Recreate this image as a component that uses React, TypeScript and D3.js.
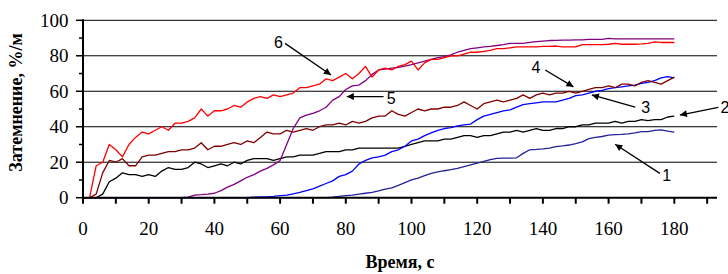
import React from "react"
import * as d3 from "d3"

// sampling grid, seconds
const seconds = d3.range(0, 181, 2)

// curve 1 (dark blue)
const curve1 = [
	0, 0, 0, 0, 0, 0, 0, 0, 0, 0,
	0, 0, 0, 0, 0, 0, 0, 0, 0, 0,
	0, 0, 0, 0, 0, 0, 0, 0, 0, 0,
	0, 0, 0, 0, 0, 0, 0, 0, 0.3, 0.8,
	1.2, 1.5, 2, 2.5, 3, 3.8, 4.8, 5.5, 7, 8.5,
	10, 11, 12.5, 13.7, 14.5, 15.2, 15.8, 16.5, 17.5, 18.5,
	19.5, 20.5, 21.5, 22.2, 22.3, 22.3, 22.5, 25, 27, 27.2,
	27.5, 28, 28.8, 29.2, 29.7, 30.5, 31.5, 33.3, 34, 34.5,
	35.3, 35.5, 35.7, 36, 36.5, 37.2, 37.3, 38, 38.2, 37.5,
	37,
]

// curve 2 (black)
const curve2 = [
	0, 0, 0, 2, 9, 11, 14, 13, 13, 12,
	13, 12, 15, 17, 16, 16, 17, 20, 19, 17,
	18, 19, 18, 20, 19, 21, 22, 22, 22, 21,
	22, 23, 23, 24, 24, 24, 25, 26, 26, 26,
	27, 27, 28, 28, 28, 28, 28, 28, 28, 29,
	30, 31, 32, 32, 32, 33, 33, 34, 35, 35,
	34, 35, 35, 36, 37, 37, 38, 37, 38, 39,
	38, 38, 39, 39, 40, 40, 41, 41, 42, 42,
	42, 43, 42, 43, 43, 44, 43.5, 44, 44, 45.5,
	46,
]

// curve 3 (blue)
const curve3 = [
	0, 0, 0, 0, 0, 0, 0, 0, 0, 0,
	0, 0, 0, 0, 0, 0, 0, 0, 0, 0,
	0, 0, 0, 0, 0, 0, 0.3, 0.5, 0.5, 0.8,
	1.2, 1.5, 2.2, 3, 4, 5, 6.5, 8, 9.5, 12,
	13, 15, 19, 21, 22.5, 23, 24, 26, 27, 29,
	32, 33, 35, 36.5, 38, 39, 39.5, 40.5, 41, 41.5,
	44, 46, 47, 48, 49, 49.5, 51, 52.5, 53, 53.5,
	54, 54, 54, 55, 56, 57.5, 58, 59, 60, 60.5,
	61.5, 62, 62.5, 63, 63.5, 64.5, 65, 66, 67.5, 68.3,
	67.5,
]

// curve 4 (dark red)
const curve4 = [
	0, 0, 2, 14, 21, 20, 22, 18, 18, 23,
	24, 24, 25, 26, 26, 27, 27, 28, 31, 27,
	29, 29, 30, 31, 30, 32, 31, 34, 37, 36,
	36, 38, 37, 38, 39, 38, 40, 41, 41, 42,
	41, 43, 42, 43, 45, 46, 46, 49, 47, 46,
	48, 50, 49, 50, 50, 51, 51, 52, 54, 52,
	50, 53, 54, 55, 54, 55, 56, 58, 56, 58,
	59, 58, 59, 59, 60, 59, 60, 61, 62, 62,
	63, 62, 64, 64, 63, 65, 66, 65, 64, 66,
	68,
]

// curve 5 (purple)
const curve5 = [
	0, 0, 0, 0, 0, 0, 0, 0, 0, 0,
	0, 0, 0, 0, 0, 0, 0.3, 1.5, 1.7, 2,
	2.5, 4, 6, 7.5, 9.5, 11.5, 13, 15, 16.5, 18.5,
	21, 30, 39, 45, 46.5, 47.5, 49, 51, 55, 57,
	61, 63, 63.5, 66, 69.5, 72, 72.5, 73, 73.5, 74.2,
	75, 76, 77, 78, 79, 79.5, 80.5, 82, 83, 84,
	84.5, 85, 85.3, 85.8, 86.3, 87, 87, 87, 87.5, 88,
	88.3, 88.6, 88.7, 88.8, 88.8, 89, 89, 89.3, 89.3, 89.3,
	89.8, 89.5, 89.5, 89.5, 89.5, 89.5, 89.5, 89.5, 89.5, 89.5,
	89.5,
]

// curve 6 (red)
const curve6 = [
	0, 0, 18, 20, 30, 27, 23, 30, 34, 37,
	36, 38, 40, 38, 42, 42, 43, 45, 50, 46,
	49, 49, 50, 52, 51, 54, 56, 57, 56, 58,
	57, 58, 59, 62, 62, 63, 64, 67, 66, 68,
	70, 67, 70, 74, 68, 72, 73, 72, 74, 75,
	77, 72, 76, 78, 78, 79, 80, 80, 81, 82,
	82, 82.5, 83, 84, 84, 84.5, 85, 85, 85, 85,
	85.3, 85.3, 85.5, 85, 85, 85, 86.3, 86.3, 86.3, 86.3,
	86.5, 87, 86.5, 86.5, 86.5, 86.7, 87, 87.8, 87.5, 87.5,
	87.5,
]

const xTicks = [0, 10, 20, 30, 40, 50, 60, 70, 80, 90, 100, 110, 120, 130, 140, 150, 160, 170, 180, 190]
const xLabels = [0, 20, 40, 60, 80, 100, 120, 140, 160, 180]
const yLabels = [0, 20, 40, 60, 80, 100]
const yMinor = [10, 30, 50, 70, 90]

// series drawn in this order, last on top
const series = [
	{ values: curve1, color: "#22229a" },
	{ values: curve2, color: "#000000" },
	{ values: curve3, color: "#0000ff" },
	{ values: curve4, color: "#800000" },
	{ values: curve5, color: "#800080" },
	{ values: curve6, color: "#ff0000" },
]

// curve labels: text, text position [t, v], arrow from [t, v] to [t, v]
const callouts = [
	{ text: "6", at: [59.5, 84.5], from: [61.5, 87], to: [75.5, 69.2] },
	{ text: "5", at: [93.8, 52.6], from: [91.5, 57], to: [80.3, 57] },
	{ text: "4", at: [137.9, 70.2], from: [140.7, 72], to: [149.3, 62.5] },
	{ text: "3", at: [171.3, 47.5], from: [168.1, 51.1], to: [154.9, 57.9] },
	{ text: "2", at: [195.4, 47.5], from: [193.4, 50.9], to: [181.7, 46.6] },
	{ text: "1", at: [177.7, 9.6], from: [175.6, 13.7], to: [162, 30.1] },
]

export default function App() {
	const width = 728
	const height = 274

	const xScale = d3.scaleLinear().domain([0, 193]).range([83, 717])
	const yScale = d3.scaleLinear().domain([0, 100]).range([197.7, 20.3])

	const serif = "'Liberation Serif', 'Times New Roman', serif"
	const sans = "'Liberation Sans', Arial, sans-serif"

	const makeLine = d3
		.line<number>()
		.x((_, i) => xScale(seconds[i]))
		.y(d => yScale(d))

	const x0 = xScale(0)
	const xEnd = xScale(193)
	const y0 = yScale(0)

	return (
		<>
			<style>{`body{margin:0}`}</style>
			<svg width={width} height={height} style={{ display: "block", background: "#fff" }}>
				<defs>
					<marker id="head" viewBox="0 0 10 10" refX="10" refY="5" markerWidth="9" markerHeight="7" orient="auto" markerUnits="userSpaceOnUse">
						<path d="M0,0 L10,5 L0,10 z" fill="#000" />
					</marker>
				</defs>

				{/* gridlines */}
				{yLabels.filter(v => v > 0).map(v => (
					<line key={"g" + v} x1={x0} x2={xEnd} y1={yScale(v)} y2={yScale(v)} stroke="#000" strokeWidth={1} />
				))}

				{/* series */}
				{series.map((s, i) => (
					<path key={i} d={makeLine(s.values) || ""} fill="none" stroke={s.color} strokeWidth={1.3} strokeLinejoin="round" />
				))}

				{/* x axis */}
				<line x1={x0} x2={xEnd} y1={y0} y2={y0} stroke="#000" strokeWidth={2} />
				{xTicks.map(t => (
					<line key={"xt" + t} x1={xScale(t)} x2={xScale(t)} y1={y0} y2={y0 + 6} stroke="#000" strokeWidth={2} />
				))}
				{xLabels.map(t => (
					<text key={"xl" + t} x={xScale(t)} y={234.5} textAnchor="middle" fontFamily={serif} fontSize={19} fill="#000">
						{t}
					</text>
				))}

				{/* y axis */}
				<line x1={x0} x2={x0} y1={yScale(100) - 1} y2={y0 + 1} stroke="#000" strokeWidth={2} />
				{yLabels.map(v => (
					<line key={"yt" + v} x1={x0 - 7} x2={x0} y1={yScale(v)} y2={yScale(v)} stroke="#000" strokeWidth={1.5} />
				))}
				{yMinor.map(v => (
					<line key={"ym" + v} x1={x0 - 4} x2={x0} y1={yScale(v)} y2={yScale(v)} stroke="#000" strokeWidth={1.5} />
				))}
				{yLabels.map(v => (
					<text key={"yl" + v} x={68.5} y={yScale(v) + 6.5} textAnchor="end" fontFamily={serif} fontSize={19} fill="#000">
						{v}
					</text>
				))}

				{/* axis titles */}
				<text x={400} y={267.5} textAnchor="middle" fontFamily={serif} fontWeight="bold" fontSize={18} fill="#000">
					Время, с
				</text>
				<text transform="translate(22,102.5) rotate(-90)" textAnchor="middle" fontFamily={serif} fontWeight="bold" fontSize={18} fill="#000">
					Затемнение, %/м
				</text>

				{/* curve labels */}
				{callouts.map(c => (
					<g key={c.text}>
						<line
							x1={xScale(c.from[0])}
							y1={yScale(c.from[1])}
							x2={xScale(c.to[0])}
							y2={yScale(c.to[1])}
							stroke="#000"
							strokeWidth={1.3}
							markerEnd="url(#head)"
						/>
						<text x={xScale(c.at[0])} y={yScale(c.at[1])} textAnchor="middle" fontFamily={sans} fontSize={16} fill="#000">
							{c.text}
						</text>
					</g>
				))}
			</svg>
		</>
	)
}
